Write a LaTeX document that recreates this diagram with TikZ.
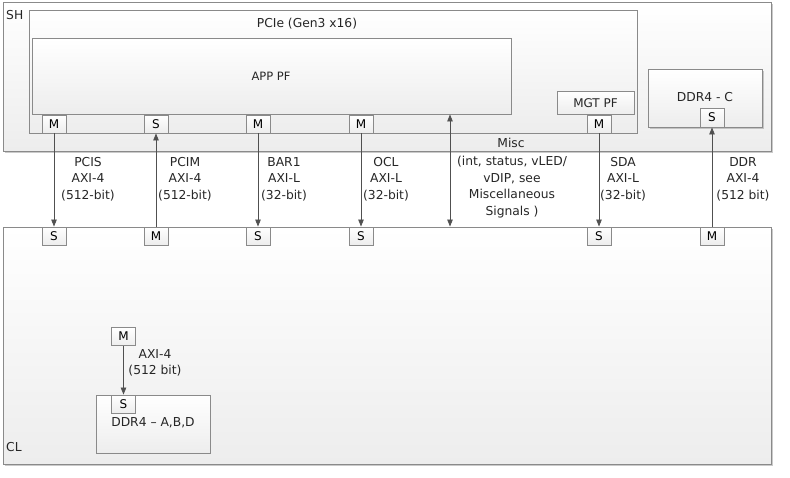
\documentclass[tikz,border=0pt]{standalone}
\usepackage{fontspec}
\setmainfont{DejaVu Sans}
\usetikzlibrary{arrows.meta,shadows}
\definecolor{edge}{HTML}{8A8A8A}
\definecolor{boxfill}{HTML}{EDEDED}
\definecolor{wire}{HTML}{505050}
\begin{document}
\begin{tikzpicture}[x=1pt,y=-1pt,
  font=\fontsize{12.3}{16.6}\selectfont,
  box/.style={draw=edge, line width=0.9pt, top color=white, bottom color=boxfill, inner sep=0pt},
  outer/.style={box, drop shadow={shadow xshift=1.5pt, shadow yshift=-1.5pt, fill=gray!70, opacity=0.6}},
  port/.style={box, minimum width=24pt, minimum height=18pt, font=\fontsize{12}{13}\selectfont},
  wirestyle/.style={draw=wire, line width=0.8pt},
  tip/.style={-{Triangle[length=7pt,width=5.5pt]}},
  lbl/.style={align=center, inner sep=0pt, text=black!85}
]
\useasboundingbox (0,0) rectangle (790,477);
% outer containers
\node[outer, minimum width=768pt, minimum height=149pt] (sh) at (387,76.5) {};
\node[outer, minimum width=768pt, minimum height=237pt] (cl) at (387,345.5) {};
% SH contents
\node[box, minimum width=608pt, minimum height=123pt] (pcie) at (333,71.5) {};
\node[box, minimum width=479pt, minimum height=76pt] (app) at (271.5,76) {};
\node[box, minimum width=77pt, minimum height=23pt] (mgt) at (595.5,102.5) {};
\node[outer, minimum width=114pt, minimum height=58pt] (ddrc) at (705,98) {};
% SH ports
\node[port] (pm1) at (54,124) {M};
\node[port] (ps2) at (156,124) {S};
\node[port] (pm3) at (258,124) {M};
\node[port] (pm4) at (361,124) {M};
\node[port] (pm5) at (599,124) {M};
\node[port, minimum height=19pt] (ds) at (712,117.5) {S};
% CL ports
\node[port] (cs1) at (54,236) {S};
\node[port] (cm2) at (156,236) {M};
\node[port] (cs3) at (258,236) {S};
\node[port] (cs4) at (361,236) {S};
\node[port] (cs5) at (599,236) {S};
\node[port] (cm6) at (712,236) {M};
% DDR4 A,B,D
\node[box, minimum width=114pt, minimum height=58pt] (abd) at (153,424) {};
\node[port] (as) at (123.5,404) {S};
\node[port] (am) at (123.5,336.5) {M};
% texts
\node[lbl, anchor=west] (shlbl) at (6,15) {SH};
\node[lbl, anchor=west] (cllbl) at (6,447) {CL};
\node[lbl] (pcielbl) at (307,24) {PCIe (Gen3 x16)};
\node[lbl, font=\fontsize{11.5}{13}\selectfont] (applbl) at (271,76) {APP PF};
\node[lbl, font=\fontsize{12}{13}\selectfont] (mgtlbl) at (595.5,103) {MGT PF};
\node[lbl] (ddrclbl) at (705,97) {DDR4 - C};
\node[lbl] (abdlbl) at (153,423) {DDR4 -- A,B,D};
\node[lbl] (misclbl) at (511,143) {Misc};
% connectors
\coordinate (miscx) at (450,0);
\draw[wirestyle, tip] (pm1) -- (cs1);
\draw[wirestyle, tip] (cm2) -- (ps2);
\draw[wirestyle, tip] (pm3) -- (cs3);
\draw[wirestyle, tip] (pm4) -- (cs4);
\draw[wirestyle, tip] (pm5) -- (cs5);
\draw[wirestyle, tip] (cm6) -- (ds);
\draw[wirestyle, {Triangle[length=7pt,width=5.5pt]}-{Triangle[length=7pt,width=5.5pt]}] (app.south -| miscx) -- (cl.north -| miscx);
\draw[wirestyle, tip] (am) -- (as);
% connector labels
\node[lbl] (l1) at (88,179) {PCIS\\AXI-4\\(512-bit)};
\node[lbl] (l2) at (185,179) {PCIM\\AXI-4\\(512-bit)};
\node[lbl] (l3) at (284,179) {BAR1\\AXI-L\\(32-bit)};
\node[lbl] (l4) at (386,179) {OCL\\AXI-L\\(32-bit)};
\node[lbl] (l5) at (512,187) {(int, status, vLED/\\vDIP, see\\Miscellaneous\\Signals )};
\node[lbl] (l6) at (623,179) {SDA\\AXI-L\\(32-bit)};
\node[lbl] (l7) at (743,179) {DDR\\AXI-4\\(512 bit)};
\node[lbl] (l8) at (155,363) {AXI-4\\(512 bit)};
\end{tikzpicture}
\end{document}
